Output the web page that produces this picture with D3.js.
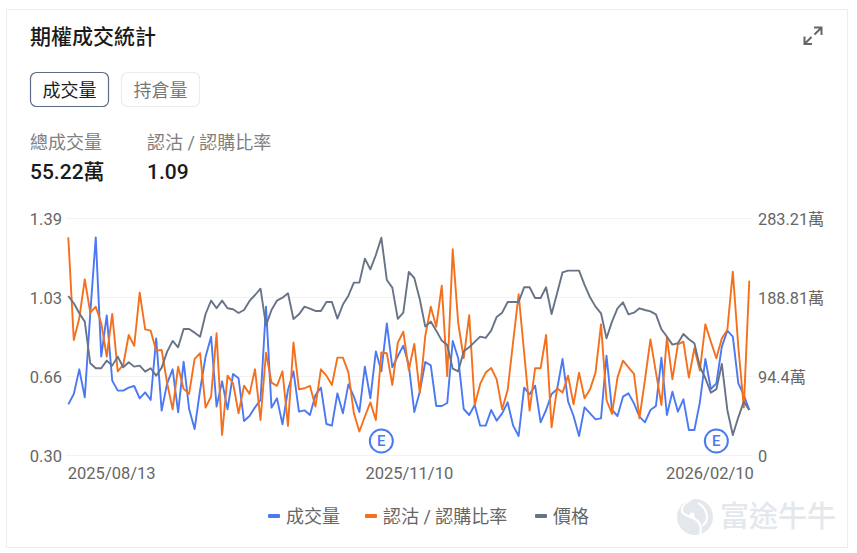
<!DOCTYPE html>
<html lang="zh-Hant">
<head>
<meta charset="utf-8">
<title>期權成交統計</title>
<script src="https://cdnjs.cloudflare.com/ajax/libs/d3/7.9.0/d3.min.js"></script>
<style>
  html, body { margin: 0; padding: 0; background: #fff; }
  svg { display: block; font-family: Roboto, "Noto Sans CJK TC", sans-serif; }
</style>
</head>
<body>
<svg id="chart" width="857" height="553"></svg>
<script>
// Daily call/put statistics, one entry per trading day.
const volume = [4104,4941,6939,4671,11475,17631,7965,11313,6021,5211,5211,5454,5589,4590,5076,4455,9450,3591,5805,6939,3456,7560,3726,2106,5265,7965,9585,3915,5967,3699,6561,6210,2754,3159,3861,4455,12015,3834,4590,2484,5265,6777,3510,3618,3240,4860,5454,2511,2376,4995,3375,5724,4725,3483,7155,4590,8397,6777,10665,7101,8019,8856,7290,3483,5130,7533,7263,3969,3969,4212,9234,7830,3726,3240,4050,2376,2376,3645,2781,3375,4266,2376,1539,5454,4914,5616,2646,3645,4941,5319,7776,4347,3159,1539,3861,3375,2889,2970,8046,3645,3159,4725,4995,4185,3105,2646,3645,3969,7884,3240,5130,3510,4509,2025,2025,4266,7776,5346,5805,8775,10071,9585,5805,4860,3645];
const putCallRatio = [1.301,.829,.929,1.108,.955,.982,.906,.752,.949,.685,.714,.852,.802,1.047,.878,.872,.780,.783,.630,.510,.706,.604,.581,.742,.768,.518,.569,.860,.392,.665,.630,.492,.619,.581,.694,.461,.771,.633,.618,.685,.434,.818,.602,.607,.618,.523,.694,.665,.622,.748,.748,.680,.492,.408,.477,.542,.461,.772,.768,.622,.817,.867,.691,.811,.587,.848,.982,.890,1.079,.663,1.246,.906,.745,.943,.530,.627,.679,.700,.648,.510,.599,.821,1.039,.771,.504,.699,.699,.852,.427,.607,.587,.665,.533,.679,.561,.602,.679,.901,.553,.489,.656,.734,.703,.673,.469,.645,.832,.680,.530,.841,.648,.809,.821,.656,.791,.688,.901,.821,.745,.837,.875,1.143,.798,.519,1.102];
const price = [190.0,181.3,169.3,159.4,109.6,103.6,103.6,112.8,106.8,117.5,104.8,110.8,105.6,106.8,99.6,103.6,94.8,104.4,123.5,136.3,128.7,150.6,150.6,146.2,141.4,168.5,184.5,175.3,184.5,175.3,174.1,169.7,173.3,184.1,191.2,198.8,154.6,173.3,184.5,188.0,193.2,162.6,168.1,177.3,174.9,172.1,172.1,182.9,182.9,163.0,179.7,190.4,206.0,206.0,234.6,221.9,239.0,259.7,209.2,200.0,162.6,170.1,218.7,211.5,186.1,153.4,159.4,148.6,136.7,131.5,103.2,100.0,123.9,128.7,135.1,141.4,139.9,148.6,165.0,170.1,182.9,182.9,182.9,200.4,200.4,187.6,187.6,200.4,168.5,193.2,218.3,220.3,220.3,220.3,203.2,188.4,177.3,169.3,139.5,159.4,175.3,182.5,168.1,170.1,175.3,173.3,171.7,168.1,150.2,141.4,131.9,133.5,144.6,138.3,133.5,105.6,91.7,74.5,78.5,108.8,53.8,23.9,45.0,63.8,53.8];

const dateTicks = [[0, "2025/08/13"], [62, "2025/11/10"], [124, "2026/02/10"]];
const ratioTicks = [1.39, 1.0267, 0.6633, 0.30];
const priceTicks = [283.21, 188.81, 94.4, 0];
const priceTickLabels = ["283.21萬", "188.81萬", "94.4萬", "0"];
const earningsDays = [57, 118];
const legendItems = ["成交量", "認沽 / 認購比率", "價格"];
const summary = [["總成交量", "55.22萬"], ["認沽 / 認購比率", "1.09"]];

const colors = { volume: "#4a79f3", ratio: "#f5701c", price: "#687387" };

const svg = d3.select("#chart");
const plot = { left: 68.3, right: 749.3, top: 218, bottom: 455 };

const x = d3.scaleLinear().domain([0, volume.length - 1]).range([plot.left, plot.right]);
const yRatio = d3.scaleLinear().domain([0.30, 1.39]).range([plot.bottom, plot.top]);
const yPrice = d3.scaleLinear().domain([0, 283.21]).range([plot.bottom, plot.top]);
const yVolume = d3.scaleLinear().domain([0, 19197]).range([plot.bottom, plot.top]);

// Card frame
svg.append("rect").attr("x", 6.5).attr("y", 9.5).attr("width", 841).attr("height", 538)
  .attr("fill", "#fff").attr("stroke", "#ededed");

// Header
svg.append("text").attr("x", 30).attr("y", 44).attr("font-size", 21).attr("font-weight", 500)
  .attr("fill", "#1a1a1a").text("期權成交統計");

// Expand icon
const icon = svg.append("g").attr("fill", "none").attr("stroke", "#666").attr("stroke-width", 2);
icon.append("path").attr("d", "M814 27.5h7.5v7.5M821 28l-6.5 6.5");
icon.append("path").attr("d", "M804.5 36.5v7.5h7.5M805 43.5l6.5-6.5");

// Tabs
svg.append("rect").attr("x", 30.5).attr("y", 72.5).attr("width", 78).attr("height", 34).attr("rx", 6)
  .attr("fill", "#fff").attr("stroke", "#5f6c86").attr("stroke-width", 1.2);
svg.append("text").attr("x", 69.5).attr("y", 97).attr("text-anchor", "middle").attr("font-size", 18)
  .attr("fill", "#1a1a1a").text("成交量");
svg.append("rect").attr("x", 121.5).attr("y", 72.5).attr("width", 78).attr("height", 34).attr("rx", 6)
  .attr("fill", "#fff").attr("stroke", "#ececec").attr("stroke-width", 1.2);
svg.append("text").attr("x", 160.5).attr("y", 97).attr("text-anchor", "middle").attr("font-size", 18)
  .attr("fill", "#777").text("持倉量");

// Summary figures
[30, 147].forEach((left, i) => {
  svg.append("text").attr("x", left).attr("y", 149).attr("font-size", 18).attr("fill", "#808080").text(summary[i][0]);
  svg.append("text").attr("x", left).attr("y", 179).attr("font-size", 21).attr("font-weight", 500)
    .attr("fill", "#1a1a1a").text(summary[i][1]);
});

// Gridlines
const grid = svg.append("g").attr("transform", "translate(66,0)")
  .call(d3.axisRight(yRatio).tickValues(ratioTicks).tickSize(686).tickFormat(""));
grid.select(".domain").remove();
grid.selectAll("line").attr("stroke", "#f2f2f2");

// Left axis: put/call ratio
const leftAxis = svg.append("g").attr("transform", "translate(62,1)")
  .call(d3.axisLeft(yRatio).tickValues(ratioTicks).tickSize(0).tickPadding(0).tickFormat(d3.format(".2f")))
  .attr("font-family", null).attr("font-size", 16.5);
leftAxis.select(".domain").remove();
leftAxis.selectAll("text").attr("fill", "#666");

// Right axis: price
const rightAxis = svg.append("g").attr("transform", "translate(758,1)")
  .call(d3.axisRight(yPrice).tickValues(priceTicks).tickSize(0).tickPadding(0)
    .tickFormat((d, i) => priceTickLabels[i]))
  .attr("font-family", null).attr("font-size", 16.3);
rightAxis.select(".domain").remove();
rightAxis.selectAll("text").attr("fill", "#666");

// Date axis
const dateAxis = svg.append("g").attr("transform", `translate(0,${plot.bottom})`)
  .call(d3.axisBottom(x).tickValues(dateTicks.map(d => d[0])).tickSize(0).tickPadding(12)
    .tickFormat((d, i) => dateTicks[i][1]))
  .attr("font-family", null).attr("font-size", 16.5);
dateAxis.select(".domain").remove();
dateAxis.selectAll("text").attr("fill", "#666")
  .attr("text-anchor", (d, i) => ["start", "middle", "end"][i])
  .attr("dx", (d, i) => [-1, 0, 4][i]);

// Watermark: round logo with a white swirl, then the brand name
const mark = svg.append("g");
mark.append("circle").attr("cx", 695).attr("cy", 517).attr("r", 18).attr("fill", "#e4e8ec");
mark.append("path").attr("fill", "none").attr("stroke", "#fff").attr("stroke-width", 2.2)
  .attr("d", "M692 499c-7 3-11 8-10 12 1 5 8 5 13 8 5 3 7 8 5 16");
mark.append("path").attr("fill", "none").attr("stroke", "#fff").attr("stroke-width", 2)
  .attr("d", "M698 503c6 3 9 9 9 14 0 4-2 7-5 9");
mark.append("circle").attr("cx", 692).attr("cy", 515).attr("r", 2.6).attr("fill", "#fff");
mark.append("text").attr("x", 720).attr("y", 527).attr("font-size", 29).attr("font-weight", 500)
  .attr("fill", "#e4e8ec").text("富途牛牛");

// Series lines
const seriesLine = (values, scale) => d3.line().x((d, i) => x(i)).y(d => scale(d))(values);
[[volume, yVolume, colors.volume], [putCallRatio, yRatio, colors.ratio], [price, yPrice, colors.price]]
  .forEach(([values, scale, color]) => {
    svg.append("path").attr("d", seriesLine(values, scale)).attr("fill", "none")
      .attr("stroke", color).attr("stroke-width", 1.9).attr("stroke-linejoin", "round");
  });

// Earnings markers
const earnings = svg.append("g").selectAll("g").data(earningsDays).join("g")
  .attr("transform", d => `translate(${x(d)},441)`);
earnings.append("circle").attr("r", 11.5).attr("fill", "#fff").attr("stroke", colors.volume).attr("stroke-width", 2);
earnings.append("text").attr("text-anchor", "middle").attr("dy", "0.36em").attr("font-size", 15)
  .attr("font-weight", 500).attr("fill", colors.volume).text("E");

// Legend
[[268, 286, colors.volume], [365, 383, colors.ratio], [535, 553, colors.price]].forEach(([sx, tx, c], i) => {
  svg.append("rect").attr("x", sx).attr("y", 514).attr("width", 12).attr("height", 4).attr("rx", 1).attr("fill", c);
  svg.append("text").attr("x", tx).attr("y", 523).attr("font-size", 18).attr("fill", "#666").text(legendItems[i]);
});
</script>
</body>
</html>
